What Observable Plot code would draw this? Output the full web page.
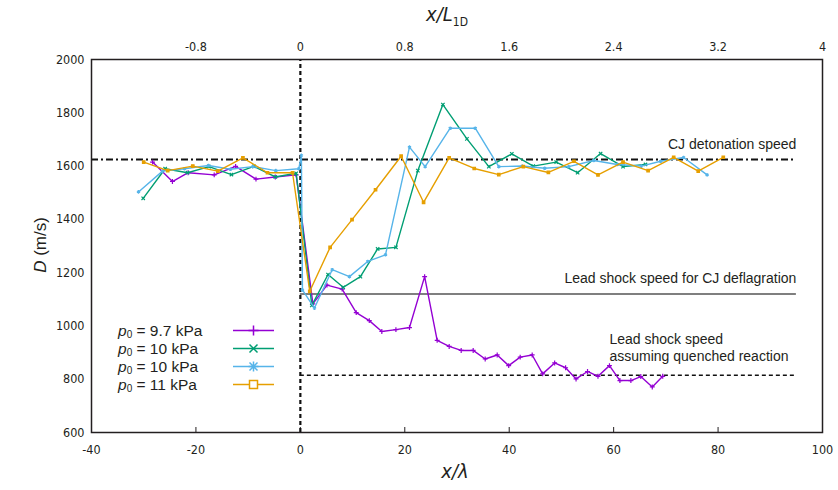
<!DOCTYPE html>
<html><head><meta charset="utf-8">
<script src="https://cdn.jsdelivr.net/npm/d3@7"></script>
<script src="https://cdn.jsdelivr.net/npm/@observablehq/plot@0.6"></script>
<style>
body{margin:0;background:#fff;}
#chart{width:838px;height:490px;}
</style></head><body><div id="chart"></div>
<script>
// ---- data ----
const xTicks = [-40, -20, 0, 20, 40, 60, 80, 100];
const yTicks = [600, 800, 1000, 1200, 1400, 1600, 1800, 2000];
const topTickLabels = [-0.8, 0, 0.8, 1.6, 2.4, 3.2, 4];
const lambdaPerL1D = 25;

const legendPressures = ["9.7", "10", "10", "11"];
const seriesColors = ["#9400d3", "#009e73", "#56b4e9", "#e69f00"];
const seriesSymbols = ["plus", "times", "asterisk", "square"];

const series97 = [[-28.3,1615],[-24.5,1542],[-21.5,1575],[-16.5,1567],[-12.4,1599],[-8.5,1551],[-4.8,1559],[-0.8,1567],
  [2.4,1083],[5.1,1153],[8.0,1138],[10.7,1050],[13.2,1020],[15.6,979],[18.3,986],[20.9,994],[23.8,1185],[26.2,946],
  [28.5,923],[30.8,908],[33.1,908],[35.4,876],[37.7,891],[39.9,851],[42.1,883],[44.4,891],[46.4,820],[48.7,861],
  [50.8,843],[52.8,801],[55.0,829],[57.0,811],[59.2,851],[61.2,795],[63.3,795],[65.2,810],[67.4,771],[69.4,811]];
const series10a = [[-30.1,1479],[-25.9,1590],[-21.6,1575],[-17.5,1598],[-13.2,1568],[-8.9,1599],[-4.8,1559],[-0.8,1573],
  [2.2,1077],[5.3,1193],[8.2,1145],[11.5,1185],[14.8,1289],[18.3,1295],[22.5,1583],[27.3,1831],[31.9,1702],[36.1,1598],
  [40.5,1646],[44.6,1600],[49.0,1615],[53.1,1575],[57.5,1647],[61.8,1598],[66.1,1606]];
const series10b = [[-31,1503],[-26.4,1581],[-22.2,1590],[-17.6,1602],[-13.4,1588],[-9.1,1598],[-4.7,1583],[-0.3,1590],
  [0.2,1640],[0.4,1135],[2.7,1067],[6.1,1211],[9.4,1185],[12.9,1242],[16.3,1267],[20.9,1671],[23.9,1598],[28.7,1742],
  [33.5,1742],[38,1598],[42.5,1600],[46.8,1592],[51.4,1598],[56.2,1621],[60.7,1606],[65.3,1600],[69,1618],[73.4,1632],[77.9,1567]];
const series11 = [[-30,1615],[-25.4,1583],[-20.6,1600],[-15.8,1581],[-11,1631],[-6.3,1575],[-1.5,1575],
  [1.8,1130],[5.7,1295],[9.9,1399],[14.4,1511],[19.3,1637],[23.6,1464],[28.5,1631],[33.3,1591],[38,1568],[42.7,1598],
  [47.5,1576],[52.4,1618],[57,1567],[61.8,1615],[66.6,1583],[71.5,1633],[76.2,1581],[81,1633]];

const cjSpeed = 1625;
const deflagrationSpeed = 1120;
const quenchedSpeed = 815;
const refLineEnd = 95;

const allSeries = [series97, series10a, series10b, series11];

// ---- chart ----
const W = 838, H = 490, mL = 91, mR = 16, mT = 59, mB = 58;
const innerH = H - mT - mB;
const tickFont = "'Liberation Sans Narrow','DejaVu Sans Condensed',sans-serif";
const textFont = "'Liberation Sans',Arial,sans-serif";
const ink = "#231f20";

const seriesMarks = allSeries.flatMap((s, i) => [
  Plot.line(s, {x: d => d[0], y: d => d[1], stroke: seriesColors[i], strokeWidth: 1.4}),
  Plot.dot(s, {x: d => d[0], y: d => d[1], symbol: seriesSymbols[i], r: seriesSymbols[i] === "square" ? 1.4 : 1.7,
    stroke: seriesColors[i], fill: seriesSymbols[i] === "square" ? seriesColors[i] : "none", strokeWidth: 1.2})
]);

const fmtTop = v => { const u = Math.round(v / lambdaPerL1D * 100) / 100; return String(u); };

const chart = Plot.plot({
  width: W, height: H, marginLeft: mL, marginRight: mR, marginTop: mT, marginBottom: mB,
  style: {fontFamily: tickFont, fontSize: "12.5px", background: "#fff", color: ink},
  x: {domain: [-40, 100]},
  y: {domain: [600, 2000]},
  marks: [
    Plot.axisX(xTicks, {anchor: "bottom", tickSize: 0, tickPadding: 13, label: null, tickFormat: d => String(d)}),
    Plot.axisX(topTickLabels.map(v => v * lambdaPerL1D), {anchor: "top", tickSize: 0, tickPadding: 9, label: null, tickFormat: fmtTop}),
    Plot.axisY(yTicks, {anchor: "left", tickSize: 0, tickPadding: 7, label: null, tickFormat: d => String(d)}),
    Plot.tickX(xTicks.slice(1, -1), {x: d => d, insetTop: innerH - 5, stroke: ink, strokeWidth: 1}),
    Plot.ruleY([cjSpeed], {x1: -40, x2: refLineEnd, stroke: "#111", strokeWidth: 2, strokeDasharray: "7,3,2,3"}),
    Plot.ruleY([deflagrationSpeed], {x1: 0, x2: refLineEnd, stroke: "#555", strokeWidth: 1.6}),
    Plot.ruleY([quenchedSpeed], {x1: 0, x2: refLineEnd, stroke: "#111", strokeWidth: 1.5, strokeDasharray: "4,3"}),
    Plot.ruleX([0], {y1: 600, y2: 2000, stroke: "#111", strokeWidth: 2.2, strokeDasharray: "4,3"}),
    ...seriesMarks,
    Plot.text(["CJ detonation speed"], {x: refLineEnd, y: cjSpeed, text: d => d, textAnchor: "end", lineAnchor: "bottom", dy: -10, fontSize: 14, fontFamily: textFont, fill: ink}),
    Plot.text(["Lead shock speed for CJ deflagration"], {x: refLineEnd, y: deflagrationSpeed, text: d => d, textAnchor: "end", lineAnchor: "bottom", dy: -11, fontSize: 14, fontFamily: textFont, fill: ink}),
    Plot.text(["Lead shock speed\nassuming quenched reaction"], {x: 59.2, y: quenchedSpeed, text: d => d, textAnchor: "start", lineAnchor: "bottom", dy: -14, lineHeight: 1.22, fontSize: 14, fontFamily: textFont, fill: ink}),
    Plot.frame({stroke: ink, strokeWidth: 1.5})
  ]
});

const svg = d3.select(chart);

// axis titles
svg.append("text").attr("x", 455).attr("y", 478).attr("text-anchor", "middle")
  .attr("font-family", tickFont).attr("font-size", 20).attr("font-style", "italic").attr("fill", ink).text("x/λ");
const t2 = svg.append("text").attr("x", 447).attr("y", 21).attr("text-anchor", "middle")
  .attr("font-family", tickFont).attr("font-size", 20).attr("fill", ink);
t2.append("tspan").attr("font-style", "italic").text("x/L");
t2.append("tspan").attr("font-size", 12).attr("dy", 5).text("1D");
const t3 = svg.append("text").attr("transform", "translate(46,245) rotate(-90)").attr("text-anchor", "middle")
  .attr("font-family", textFont).attr("font-size", 17).attr("fill", ink);
t3.append("tspan").attr("font-style", "italic").text("D");
t3.append("tspan").text(" (m/s)");

// legend
const lg = svg.append("g");
legendPressures.forEach((p, i) => {
  const cy = 330.5 + i * 18;
  const tx = lg.append("text").attr("x", 118).attr("y", cy + 5.5).attr("text-anchor", "start").attr("font-family", textFont)
    .attr("font-size", 15.5).attr("fill", ink);
  tx.append("tspan").attr("font-style", "italic").text("p");
  tx.append("tspan").attr("font-size", 10).attr("dy", 2).text("0");
  tx.append("tspan").attr("dy", -2).text(" = " + p + " kPa");
  lg.append("line").attr("x1", 233).attr("x2", 274).attr("y1", cy).attr("y2", cy)
    .attr("stroke", seriesColors[i]).attr("stroke-width", 1.5);
  const sym = seriesSymbols[i];
  const sx = 253.5, r = 5;
  if (sym === "plus") {
    lg.append("path").attr("d", `M${sx-r},${cy}H${sx+r}M${sx},${cy-r}V${cy+r}`).attr("stroke", seriesColors[i]).attr("stroke-width", 1.5);
  } else if (sym === "times") {
    const q = r * 0.8;
    lg.append("path").attr("d", `M${sx-q},${cy-q}L${sx+q},${cy+q}M${sx-q},${cy+q}L${sx+q},${cy-q}`).attr("stroke", seriesColors[i]).attr("stroke-width", 1.5);
  } else if (sym === "asterisk") {
    const q = r * 0.8;
    lg.append("path").attr("d", `M${sx-r},${cy}H${sx+r}M${sx},${cy-r}V${cy+r}M${sx-q},${cy-q}L${sx+q},${cy+q}M${sx-q},${cy+q}L${sx+q},${cy-q}`).attr("stroke", seriesColors[i]).attr("stroke-width", 1.5);
  } else {
    lg.append("rect").attr("x", sx - 4).attr("y", cy - 4).attr("width", 8).attr("height", 8)
      .attr("fill", "#fff").attr("stroke", seriesColors[i]).attr("stroke-width", 1.5);
  }
});

document.getElementById("chart").appendChild(chart);
</script></body></html>
